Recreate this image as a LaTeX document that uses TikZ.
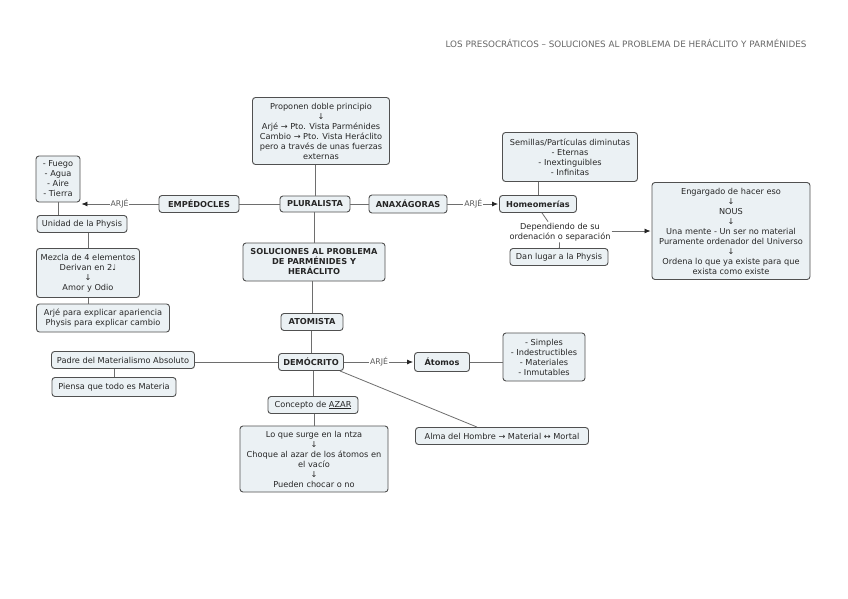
\documentclass[tikz,border=0pt]{standalone}
\usepackage{fontspec}
\setmainfont{DejaVu Sans}
\usetikzlibrary{arrows.meta}
\definecolor{boxfill}{HTML}{EBF1F4}
\definecolor{boxline}{HTML}{505050}
\definecolor{linkc}{HTML}{6E6E6E}
\begin{document}
\begin{tikzpicture}[x=1pt,y=-1pt,
  box/.style={draw=boxline, fill=boxfill, rounded corners=3pt, line width=0.9pt,
    align=center, inner sep=1.5pt, font=\fontsize{8.2}{10}\selectfont, text=black!85},
  bbox/.style={box, font=\fontsize{8.2}{10}\selectfont\bfseries},
  plain/.style={align=center, inner sep=1pt, font=\fontsize{8.2}{10.5}\selectfont, text=black!85},
  link/.style={draw=linkc, line width=0.8pt},
  arr/.style={link, -{Latex[length=6pt,width=5pt,color=black!85]}, shorten >=1pt},
  lab/.style={fill=white, inner sep=1pt, font=\fontsize{7.8}{8}\selectfont, text=black!65}]
\useasboundingbox (0,0) rectangle (848,599);
\fill[white] (0,0) rectangle (848,599);

\node[anchor=east, text=black!60, font=\fontsize{8.8}{9}\selectfont] (title) at (810,43)
  {LOS PRESOCRÁTICOS – SOLUCIONES AL PROBLEMA DE HERÁCLITO Y PARMÉNIDES};

% nodes
\node[box, minimum width=137pt, minimum height=67pt] (prop) at (321,131)
  {Proponen doble principio\\↓\\Arjé → Pto. Vista Parménides\\Cambio → Pto. Vista Heráclito\\pero a través de unas fuerzas\\externas};
\node[bbox, minimum width=80pt, minimum height=17pt] (emp) at (199,204) {EMPÉDOCLES};
\node[bbox, minimum width=70pt, minimum height=16pt] (plu) at (315,204) {PLURALISTA};
\node[bbox, minimum width=78pt, minimum height=18pt] (anax) at (408,204) {ANAXÁGORAS};
\node[bbox, minimum width=77pt, minimum height=17pt] (homeo) at (538,204) {Homeomerías};
\node[box, minimum width=135pt, minimum height=49pt] (sem) at (570,157)
  {Semillas/Partículas diminutas\\- Eternas\\- Inextinguibles\\- Infinitas};
\node[box, minimum width=44pt, minimum height=46pt] (fuego) at (58,179)
  {- Fuego\\- Agua\\- Aire\\- Tierra};
\node[box, minimum width=90pt, minimum height=17pt] (unidad) at (82,224) {Unidad de la Physis};
\node[box, minimum width=103pt, minimum height=49pt] (mezcla) at (88,273)
  {Mezcla de 4 elementos\\Derivan en 2♩\\↓\\Amor y Odio};
\node[box, minimum width=133pt, minimum height=28pt] (arjep) at (103,318)
  {Arjé para explicar apariencia\\Physis para explicar cambio};
\node[plain] (dep) at (560,232) {Dependiendo de su\\ordenación o separación};
\node[box, minimum width=98pt, minimum height=17pt] (dan) at (559,257) {Dan lugar a la Physis};
\node[box, minimum width=158pt, minimum height=97pt] (eng) at (731,231)
  {Engargado de hacer eso\\↓\\NOUS\\↓\\Una mente - Un ser no material\\Puramente ordenador del Universo\\↓\\Ordena lo que ya existe para que\\exista como existe};
\node[bbox, minimum width=142pt, minimum height=38pt] (sol) at (314,262)
  {SOLUCIONES AL PROBLEMA\\DE PARMÉNIDES Y\\HERÁCLITO};
\node[bbox, minimum width=62pt, minimum height=17pt] (atom) at (312,322) {ATOMISTA};
\node[bbox, minimum width=65pt, minimum height=17pt] (dem) at (311,362) {DEMÓCRITO};
\node[bbox, minimum width=55pt, minimum height=19pt] (atomos) at (442,362) {Átomos};
\node[box, minimum width=82pt, minimum height=48pt] (simp) at (544,357)
  {- Simples\\- Indestructibles\\- Materiales\\- Inmutables};
\node[box, minimum width=143pt, minimum height=17pt] (padre) at (123,360) {Padre del Materialismo Absoluto};
\node[box, minimum width=124pt, minimum height=19pt] (piensa) at (114,387) {Piensa que todo es Materia};
\node[box, minimum width=90pt, minimum height=17pt] (azar) at (313,405) {Concepto de \underline{AZAR}};
\node[box, minimum width=148pt, minimum height=66pt] (surge) at (314,459)
  {Lo que surge en la ntza\\↓\\Choque al azar de los átomos en\\el vacío\\↓\\Pueden chocar o no};
\node[box, minimum width=173pt, minimum height=17pt] (alma) at (502,436)
  {Alma del Hombre → Material ↔ Mortal};

% connectors
\draw[link] (prop.south -| plu.north) -- (plu.north);
\draw[link] (plu.south -| sol.north) -- (sol.north);
\draw[link] (sol.south -| atom.north) -- (atom.north);
\draw[link] (atom.south -| dem.north) -- (dem.north);
\draw[link] (dem.south -| azar.north) -- (azar.north);
\draw[link] (azar.south -| surge.north) -- (surge.north);
\draw[link] (plu) -- (emp);
\draw[link] (plu) -- (anax);
\draw[arr] (emp.west) -- node[lab] {ARJÉ} (fuego.east |- emp.west);
\draw[link] (fuego.south) -- (fuego.south |- unidad.north);
\draw[link] (unidad.south -| mezcla.north) -- (mezcla.north);
\draw[link] (mezcla.south) -- (mezcla.south |- arjep.north);
\draw[arr] (anax.east) -- node[lab] {ARJÉ} (homeo.west);
\draw[link] (sem.south -| homeo.north) -- (homeo.north);
\draw[link] ([xshift=4pt]homeo.south) -- ([xshift=-12pt]dep.north);
\draw[arr] (dep.east |- eng.west) -- (eng.west);
\draw[link] (dep) -- (dan);
\draw[link] (dem.west) -- (padre.east |- dem.west);
\draw[link] (padre.south -| piensa.north) -- (piensa.north);
\draw[arr] (dem.east) -- node[lab] {ARJÉ} (atomos.west);
\draw[link] (atomos.east) -- (simp.west |- atomos.east);
\draw[link] ([xshift=-4pt]dem.south east) -- ([xshift=-25pt]alma.north);
\end{tikzpicture}
\end{document}
